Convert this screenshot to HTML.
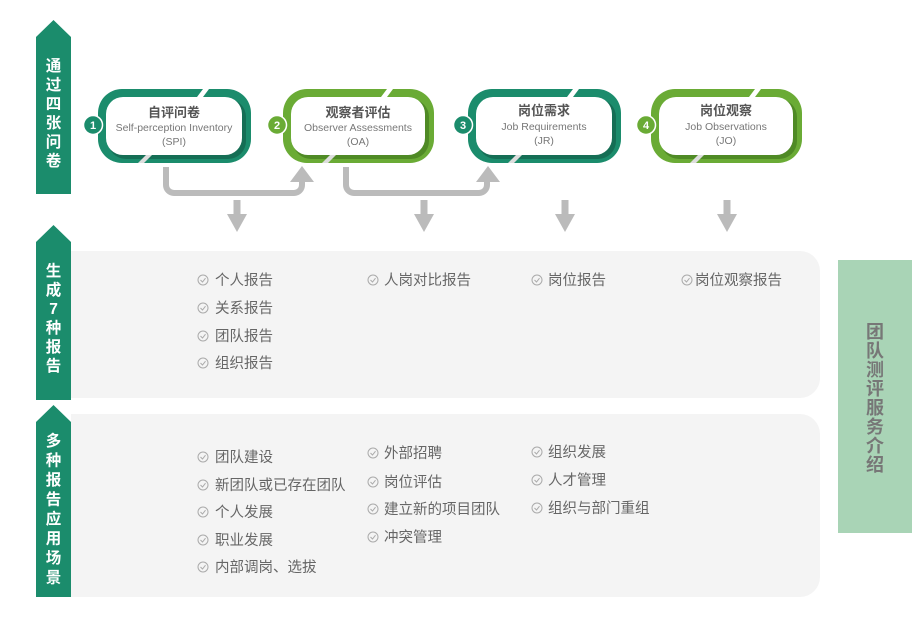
<!DOCTYPE html>
<html><head><meta charset="utf-8"><style>
body{margin:0;background:#fff;width:912px;height:627px;overflow:hidden}
svg{display:block}
text{font-family:"Liberation Sans","Noto Sans CJK SC",sans-serif}
.v{font-size:15.5px;font-weight:bold;fill:#fff}
.li{font-size:14.5px;fill:#666}
.t{font-size:13px;font-weight:bold;fill:#555}
.s{font-size:10.5px;fill:#777}
</style></head><body>
<svg width="912" height="627" viewBox="0 0 912 627">
<defs>
<g id="ck"><circle r="5" fill="none" stroke="#aaa" stroke-width="1"/><path d="M-2.5,0 L-0.5,2 L2.5,-1.8" fill="none" stroke="#aaa" stroke-width="1"/></g>
<path id="da" d="M-3.5,200 H3.5 V214 H10 L0,232 L-10,214 H-3.5Z" fill="#bbb"/>
</defs>
<path d="M36,37 L53.5,20 L71,37 L71,194 L36,194Z" fill="#1b8c6c"/>
<path d="M36,242 L53.5,225 L71,242 L71,400 L36,400Z" fill="#1b8c6c"/>
<path d="M36,422 L53.5,405 L71,422 L71,597 L36,597Z" fill="#1b8c6c"/>
<g text-anchor="middle">
<text x="53.5" y="71" class="v">通</text><text x="53.5" y="90" class="v">过</text><text x="53.5" y="109" class="v">四</text><text x="53.5" y="128" class="v">张</text><text x="53.5" y="147" class="v">问</text><text x="53.5" y="166" class="v">卷</text>
<text x="53.5" y="276" class="v">生</text><text x="53.5" y="295" class="v">成</text><text x="53.5" y="314" class="v">7</text><text x="53.5" y="333" class="v">种</text><text x="53.5" y="352" class="v">报</text><text x="53.5" y="371" class="v">告</text>
<text x="53.5" y="446" class="v">多</text><text x="53.5" y="465.5" class="v">种</text><text x="53.5" y="485" class="v">报</text><text x="53.5" y="504.5" class="v">告</text><text x="53.5" y="524" class="v">应</text><text x="53.5" y="543.5" class="v">用</text><text x="53.5" y="563" class="v">场</text><text x="53.5" y="582.5" class="v">景</text>
</g>
<path d="M71,251 H800 a20,20 0 0 1 20,20 V378 a20,20 0 0 1 -20,20 H71Z" fill="#f4f4f4"/>
<path d="M71,414 H800 a20,20 0 0 1 20,20 V577 a20,20 0 0 1 -20,20 H71Z" fill="#f4f4f4"/>
<rect x="838" y="260" width="74" height="273" fill="#a9d4b6"/>
<g font-size="18" font-weight="bold" fill="#777" text-anchor="middle">
<text x="875" y="338">团</text><text x="875" y="357">队</text><text x="875" y="376">测</text><text x="875" y="395">评</text><text x="875" y="414">服</text><text x="875" y="433">务</text><text x="875" y="452">介</text><text x="875" y="471">绍</text>
</g>
<g fill="none" stroke="#bbb" stroke-width="6">
<path d="M166,167 V185 a8,8 0 0 0 8,8 H294 a8,8 0 0 0 8,-8 V176"/>
<path d="M346,167 V185 a8,8 0 0 0 8,8 H479 a8,8 0 0 0 8,-8 V176"/>
</g>
<g fill="#bbb">
<path d="M290,182 L302,166 L314,182Z"/>
<path d="M476,182 L488,166 L500,182Z"/>
</g>
<use href="#da" x="237"/><use href="#da" x="424"/><use href="#da" x="565"/><use href="#da" x="727"/>
<g id="c1">
<rect x="98" y="89" width="153" height="74" rx="24" fill="#1b8c6c"/>
<rect x="108" y="99" width="138" height="60" rx="18" fill="#156e55"/>
<rect x="106" y="97" width="136" height="58" rx="17" fill="#fff"/>
<path d="M203,89 L209,89 L203,97 L197,97Z" fill="#fff"/>
<path d="M138,163 L146,155 L152,155 L144,163Z" fill="#ddd"/>
</g>
<use href="#c1" x="370"/>
<g id="c2">
<rect x="283" y="89" width="151" height="74" rx="24" fill="#6aab35"/>
<rect x="293" y="99" width="136" height="60" rx="18" fill="#4f8a25"/>
<rect x="291" y="97" width="134" height="58" rx="17" fill="#fff"/>
<path d="M387,89 L393,89 L387,97 L381,97Z" fill="#fff"/>
<path d="M322,163 L330,155 L336,155 L328,163Z" fill="#ddd"/>
</g>
<use href="#c2" x="368"/>
<g font-size="11" font-weight="bold" fill="#fff" text-anchor="middle">
<circle cx="93" cy="125" r="9.5" fill="#1b8c6c" stroke="#fff" stroke-width="1.5"/><text x="93" y="129">1</text>
<circle cx="277" cy="125" r="9.5" fill="#6aab35" stroke="#fff" stroke-width="1.5"/><text x="277" y="129">2</text>
<circle cx="463" cy="125" r="9.5" fill="#1b8c6c" stroke="#fff" stroke-width="1.5"/><text x="463" y="129">3</text>
<circle cx="646" cy="125" r="9.5" fill="#6aab35" stroke="#fff" stroke-width="1.5"/><text x="646" y="129">4</text>
</g>
<g text-anchor="middle">
<text class="t" x="174" y="117">自评问卷</text><text class="s" x="174" y="131">Self-perception Inventory</text><text class="s" x="174" y="145">(SPI)</text>
<text class="t" x="358" y="117">观察者评估</text><text class="s" x="358" y="131">Observer Assessments</text><text class="s" x="358" y="145">(OA)</text>
<text class="t" x="544" y="115">岗位需求</text><text class="s" x="544" y="130">Job Requirements</text><text class="s" x="544" y="144">(JR)</text>
<text class="t" x="726" y="115">岗位观察</text><text class="s" x="726" y="130">Job Observations</text><text class="s" x="726" y="144">(JO)</text>
</g>
<g>
<use href="#ck" x="203" y="280"/><text class="li" x="215" y="285">个人报告</text>
<use href="#ck" x="203" y="308"/><text class="li" x="215" y="313">关系报告</text>
<use href="#ck" x="203" y="336"/><text class="li" x="215" y="341">团队报告</text>
<use href="#ck" x="203" y="363"/><text class="li" x="215" y="368">组织报告</text>
<use href="#ck" x="373" y="280"/><text class="li" x="384" y="285">人岗对比报告</text>
<use href="#ck" x="537" y="280"/><text class="li" x="548" y="285">岗位报告</text>
<use href="#ck" x="687" y="280"/><text class="li" x="695" y="285">岗位观察报告</text>
<use href="#ck" x="203" y="457"/><text class="li" x="215" y="462">团队建设</text>
<use href="#ck" x="203" y="485"/><text class="li" x="215" y="490">新团队或已存在团队</text>
<use href="#ck" x="203" y="512"/><text class="li" x="215" y="517">个人发展</text>
<use href="#ck" x="203" y="540"/><text class="li" x="215" y="545">职业发展</text>
<use href="#ck" x="203" y="567"/><text class="li" x="215" y="572">内部调岗、选拔</text>
<use href="#ck" x="373" y="453"/><text class="li" x="384" y="458">外部招聘</text>
<use href="#ck" x="373" y="482"/><text class="li" x="384" y="487">岗位评估</text>
<use href="#ck" x="373" y="509"/><text class="li" x="384" y="514">建立新的项目团队</text>
<use href="#ck" x="373" y="537"/><text class="li" x="384" y="542">冲突管理</text>
<use href="#ck" x="537" y="452"/><text class="li" x="548" y="457">组织发展</text>
<use href="#ck" x="537" y="480"/><text class="li" x="548" y="485">人才管理</text>
<use href="#ck" x="537" y="508"/><text class="li" x="548" y="513">组织与部门重组</text>
</g>
</svg>
</body></html>
